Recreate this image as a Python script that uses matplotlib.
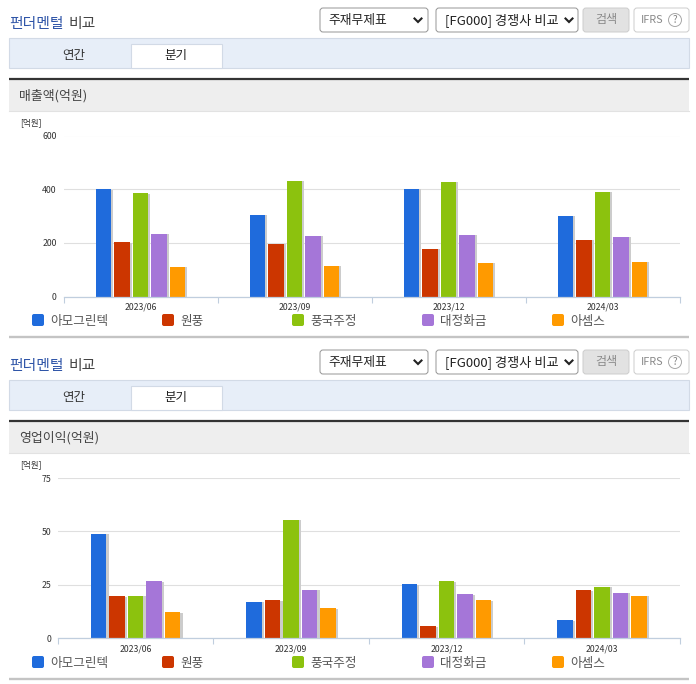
#!/usr/bin/env python3
"""펀더멘털 비교 - two quarterly grouped bar panels with the page chrome around them."""
import numpy as np
import matplotlib
matplotlib.use("Agg")
import matplotlib.pyplot as plt
import matplotlib.patheffects as pe
from matplotlib.patches import Rectangle, FancyBboxPatch, Circle

plt.rcParams["font.family"] = ["Noto Sans CJK KR", "DejaVu Sans"]

QUARTERS = ["2023/06", "2023/09", "2023/12", "2024/03"]
COMPANIES = ["아모그린텍", "원풍", "풍국주정", "대정화금", "아셈스"]
COLORS = ["#1f6bdc", "#cc3600", "#8cc20e", "#a576d8", "#ff9a00"]

SALES_AMO = [400, 305, 402, 301]
SALES_WONP = [202, 197, 178, 212]
SALES_PGJ = [385, 431, 427, 391]
SALES_DJ = [234, 227, 230, 223]
SALES_ASM = [111, 115, 126, 130]
SALES_TICKS = [0, 200, 400, 600]

PROFIT_AMO = [48.9, 17.1, 25.1, 8.3]
PROFIT_WONP = [19.5, 17.6, 5.5, 22.3]
PROFIT_PGJ = [19.8, 55.5, 26.5, 24.0]
PROFIT_DJ = [26.5, 22.7, 20.4, 21.3]
PROFIT_ASM = [12.0, 13.9, 17.6, 19.9]
PROFIT_TICKS = [0, 25, 50, 75]

W, H = 696, 684
fig = plt.figure(figsize=(W / 100, H / 100), dpi=100, facecolor="white")

# page chrome is drawn in pixel coordinates on one full-size axes
bg = fig.add_axes([0, 0, 1, 1])
bg.set_xlim(0, W); bg.set_ylim(H, 0); bg.axis("off")


def box(x0, y0, x1, y1, fc="white", ec="#a8a8a8", lw=0.7, r=3):
    bg.add_patch(FancyBboxPatch((x0 + r, y0 + r), x1 - x0 - 2 * r, y1 - y0 - 2 * r,
                                boxstyle=f"round,pad={r},rounding_size={r}",
                                fc=fc, ec=ec, lw=lw))


def chevron(x, y):
    bg.plot([x - 3.5, x, x + 3.5], [y - 1.5, y + 2, y - 1.5], color="#222222", lw=1.5, solid_joinstyle="miter")


def chrome(dy, label):
    bg.text(9, 24 + dy, "펀더멘털", color="#2f55a8", fontsize=10.7, fontweight="medium", va="center")
    bg.text(69, 24 + dy, "비교", color="#444444", fontsize=10.7, fontweight="medium", va="center")

    box(320, 8 + dy, 428, 32 + dy, ec="#949494")
    bg.text(328, 20.5 + dy, "주재무제표", fontsize=9.2, color="#222222", va="center")
    chevron(418, 20 + dy)
    box(436, 8 + dy, 578, 32 + dy, ec="#949494")
    bg.text(445, 20.5 + dy, "[FG000] 경쟁사 비교", fontsize=9.5, color="#222222", va="center")
    chevron(569, 20 + dy)
    box(583, 8 + dy, 629, 32 + dy, fc="#e2e2e2", ec="#cccccc")
    bg.text(606, 20 + dy, "검색", fontsize=8.7, color="#8a8a8a", ha="center", va="center")
    box(634, 8 + dy, 689, 32 + dy, ec="#cccccc")
    bg.text(641, 20 + dy, "IFRS", fontsize=7.8, color="#8a8a8a", va="center")
    bg.add_patch(Circle((675, 20 + dy), 6.5, fc="white", ec="#a8a8a8", lw=0.7))
    bg.text(675, 20 + dy, "?", fontsize=7, color="#808080", ha="center", va="center")

    bg.add_patch(Rectangle((9, 38 + dy), 680, 29.5, fc="#e7eef8", ec="#d2dae6", lw=0.8))
    bg.add_patch(Rectangle((131, 43.5 + dy), 91, 24, fc="white", ec="#d2dae6", lw=0.8))
    bg.text(74, 55 + dy, "연간", fontsize=9, color="#333333", ha="center", va="center")
    bg.text(176, 55 + dy, "분기", fontsize=9, color="#222222", ha="center", va="center")

    bg.add_patch(Rectangle((9, 80 + dy), 680, 30.5, fc="#eeeeee", ec="none"))
    bg.plot([9, 689], [79 + dy, 79 + dy], color="#333333", lw=1.6, solid_capstyle="butt")
    bg.plot([9, 689], [110.5 + dy, 110.5 + dy], color="#e2e2e2", lw=0.8)
    bg.text(19, 95.5 + dy, label, fontsize=9.3, color="#444444", va="center")
    bg.text(20, 122.5 + dy, "[억원]", fontsize=6.2, color="#333333", va="center")

    for i, (name, color) in enumerate(zip(COMPANIES, COLORS)):
        x = 32 + 130 * i
        box(x, 314 + dy, x + 12, 326 + dy, fc=color, ec="none", lw=0, r=2)
        bg.text(x + 18, 321 + dy, name, fontsize=9.1, color="#555555", va="center")
    bg.plot([9, 689], [336.7 + dy, 336.7 + dy], color="#c4c4c4", lw=1.7, solid_capstyle="butt")


def panel(x0, x1, y_top, y_zero, series, ticks):
    ax = fig.add_axes([x0 / W, 1 - y_zero / H, (x1 - x0) / W, (y_zero - y_top) / H])
    ax.patch.set_alpha(0)
    n = np.arange(len(QUARTERS)) + 0.5
    pitch = 18.5 / ((x1 - x0) / len(QUARTERS))
    width = 15.5 / ((x1 - x0) / len(QUARTERS))
    shadow = [pe.SimplePatchShadow(offset=(1.6, -0.4), shadow_rgbFace="#cccccc", alpha=1), pe.Normal()]
    for k, (vals, color) in enumerate(zip(series, COLORS)):
        ax.bar(n + (k - 2) * pitch, vals, width=width, color=color, zorder=3, path_effects=shadow)
    ax.set_xlim(0, len(QUARTERS))
    ax.set_ylim(ticks[0], ticks[-1])
    ax.set_yticks(ticks)
    ax.set_xticks(np.arange(len(QUARTERS) + 1))
    ax.set_xticklabels([])
    ax.set_xticks(n, minor=True)
    ax.set_xticklabels(QUARTERS, minor=True)
    ax.tick_params(axis="x", which="major", length=4, width=0.8, color="#c0cede")
    ax.tick_params(axis="x", which="minor", length=0, pad=4.5, labelsize=6.3, labelcolor="#333333")
    ax.tick_params(axis="y", length=0, pad=5, labelsize=6.3, labelcolor="#333333")
    ax.grid(axis="y", color="#dfdfdf", lw=0.8, zorder=0)
    ax.set_axisbelow(True)
    for side in ["top", "right", "left"]:
        ax.spines[side].set_visible(False)
    ax.spines["bottom"].set_color("#c0cede")
    ax.spines["bottom"].set_linewidth(0.9)
    ax.spines["bottom"].set_zorder(4)
    return ax


chrome(0, "매출액(억원)")
chrome(342, "영업이익(억원)")

panel(63.5, 679.5, 135.5, 296.5, [SALES_AMO, SALES_WONP, SALES_PGJ, SALES_DJ, SALES_ASM], SALES_TICKS)
panel(58, 679.5, 478, 638, [PROFIT_AMO, PROFIT_WONP, PROFIT_PGJ, PROFIT_DJ, PROFIT_ASM], PROFIT_TICKS)

fig.savefig("out.png", dpi=100)
